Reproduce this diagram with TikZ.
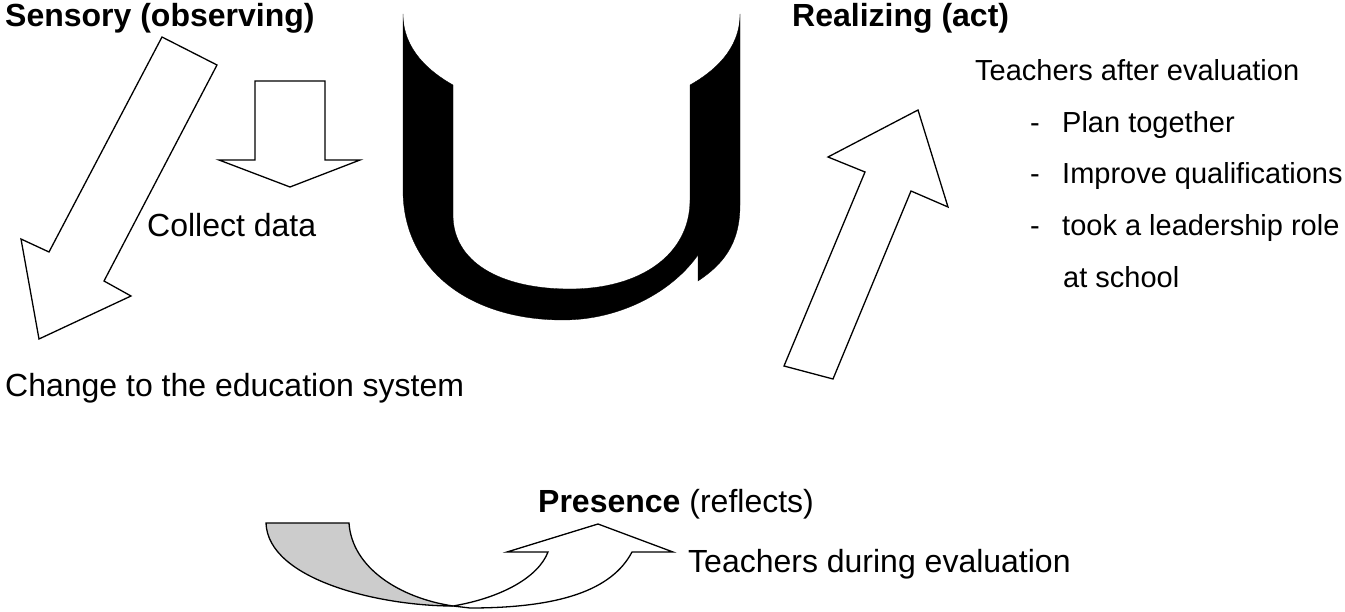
\documentclass[tikz,border=0pt]{standalone}
\usepackage{fontspec}
\setmainfont{Liberation Sans}
\begin{document}
\begin{tikzpicture}[x=1pt,y=-1pt,
  txt/.style={inner sep=0pt, anchor=base west, font=\fontsize{32}{38}\selectfont},
  smalltxt/.style={inner sep=0pt, anchor=base west, font=\fontsize{29}{35}\selectfont},
  arrowshape/.style={draw=black, fill=white, line width=1.3pt, line join=miter},
  ushape/.style={fill=black, draw=black, line width=0.3pt}]
\useasboundingbox (0,0) rectangle (1345,612);

% left diagonal block arrow
\draw[arrowshape] (162,37) -- (217,65) -- (104,281) -- (131,296) -- (39,339) -- (21,239) -- (49,252) -- cycle;
% down block arrow
\draw[arrowshape] (255,81) -- (325,81) -- (325,160) -- (360,160) -- (290,187) -- (219,160) -- (255,160) -- cycle;
% right up block arrow
\draw[arrowshape] (784,366) -- (833,379) -- (911,191) -- (948,207) -- (918,110) -- (828,157) -- (865,172) -- cycle;

% black U shaped arrow
\path[ushape] (403,14) -- (403,190)
  .. controls (403,270) and (470,320) .. (563,320)
  .. controls (620,320) and (672,292) .. (698,255)
  -- (698,281)
  .. controls (722,265) and (740,245) .. (740,205)
  -- (740,14)
  .. controls (740,50) and (713,72) .. (690,85)
  -- (690,200)
  .. controls (690,255) and (640,289) .. (570,289)
  .. controls (500,289) and (453,262) .. (453,215)
  -- (453,85)
  .. controls (430,72) and (403,50) .. (403,14) -- cycle;

% bottom curved arrow
\draw[arrowshape] (453,606) .. controls (500,598) and (538,578) .. (548,552)
  -- (507,552) -- (598,524) -- (673,552) -- (632,552)
  .. controls (612,590) and (560,608) .. (470,608) -- cycle;
\draw[draw=black, fill=black!20, line width=1.3pt] (266,523) -- (349,523)
  .. controls (352,568) and (400,598) .. (453,606)
  .. controls (380,606) and (268,580) .. (266,523) -- cycle;

% texts
\node[txt] (sensory) at (5,27) {\textbf{Sensory (observing)}};
\node[txt] (collect) at (147,237) {Collect data};
\node[txt] (change) at (5,396) {Change to the education system};
\node[txt] (realizing) at (792,27) {\textbf{Realizing (act)}};
\node[smalltxt] (after) at (975,81) {Teachers after evaluation};
\node[smalltxt] (d1) at (1030,133) {-};
\node[smalltxt] (plan) at (1062,133) {Plan together};
\node[smalltxt] (d2) at (1030,184) {-};
\node[smalltxt] (improve) at (1062,184) {Improve qualifications};
\node[smalltxt] (d3) at (1030,236) {-};
\node[smalltxt] (took) at (1062,236) {took a leadership role};
\node[smalltxt] (school) at (1063,288) {at school};
\node[txt] (presence) at (538,512) {\textbf{Presence} (reflects)};
\node[txt] (during) at (688,572) {Teachers during evaluation};
\end{tikzpicture}
\end{document}
